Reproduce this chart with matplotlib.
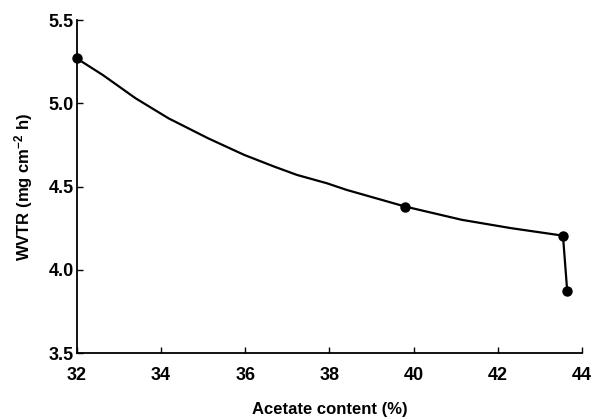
import matplotlib
matplotlib.use("Agg")
import matplotlib.pyplot as plt

plt.rcParams['font.family'] = ['Liberation Sans', 'DejaVu Sans']
plt.rcParams['font.weight'] = 'bold'
plt.rcParams['mathtext.fontset'] = 'custom'
plt.rcParams['mathtext.rm'] = 'Liberation Sans:bold'
plt.rcParams['mathtext.bf'] = 'Liberation Sans:bold'
plt.rcParams['mathtext.default'] = 'bf'

# measured points
acetate = [32.0, 39.8, 43.55, 43.65]
wvtr = [5.27, 4.38, 4.205, 3.875]

# smooth curve traced through the points
curve_x = [32.0, 32.62, 33.40, 34.18, 35.12, 35.98, 36.69, 37.23, 37.94,
           38.41, 39.8, 41.15, 42.32, 43.55, 43.65]
curve_y = [5.27, 5.17, 5.03, 4.91, 4.79, 4.69, 4.62, 4.57, 4.52,
           4.48, 4.38, 4.30, 4.25, 4.205, 3.875]

xticks = [32, 34, 36, 38, 40, 42, 44]
yticks = [3.5, 4.0, 4.5, 5.0, 5.5]

fig = plt.figure(figsize=(5.95, 4.19), dpi=100)
ax = fig.add_axes([0.129, 0.1575, 0.849, 0.7945])

ax.plot(curve_x, curve_y, color='black', lw=1.6)
ax.plot(acetate, wvtr, 'o', color='black', ms=6.5, clip_on=False)

ax.set_xlim(32, 44)
ax.set_ylim(3.5, 5.5)
ax.set_xticks(xticks)
ax.set_yticks(yticks)
ax.set_xticklabels([str(t) for t in xticks])
ax.set_yticklabels([f"{t:.1f}" for t in yticks])
ax.tick_params(direction='in', length=4, width=1, labelsize=13)
ax.tick_params(axis='x', pad=10)
ax.tick_params(axis='y', pad=2)

for s in ['top', 'right']:
    ax.spines[s].set_visible(False)
for s in ['left', 'bottom']:
    ax.spines[s].set_linewidth(1.3)

ax.set_xlabel("Acetate content (%)", fontsize=12, fontweight='bold', labelpad=13)
ax.set_ylabel("WVTR (mg cm$^{-2}$ h)", fontsize=12, fontweight='bold', labelpad=10)

fig.savefig("out.png", dpi=100)
